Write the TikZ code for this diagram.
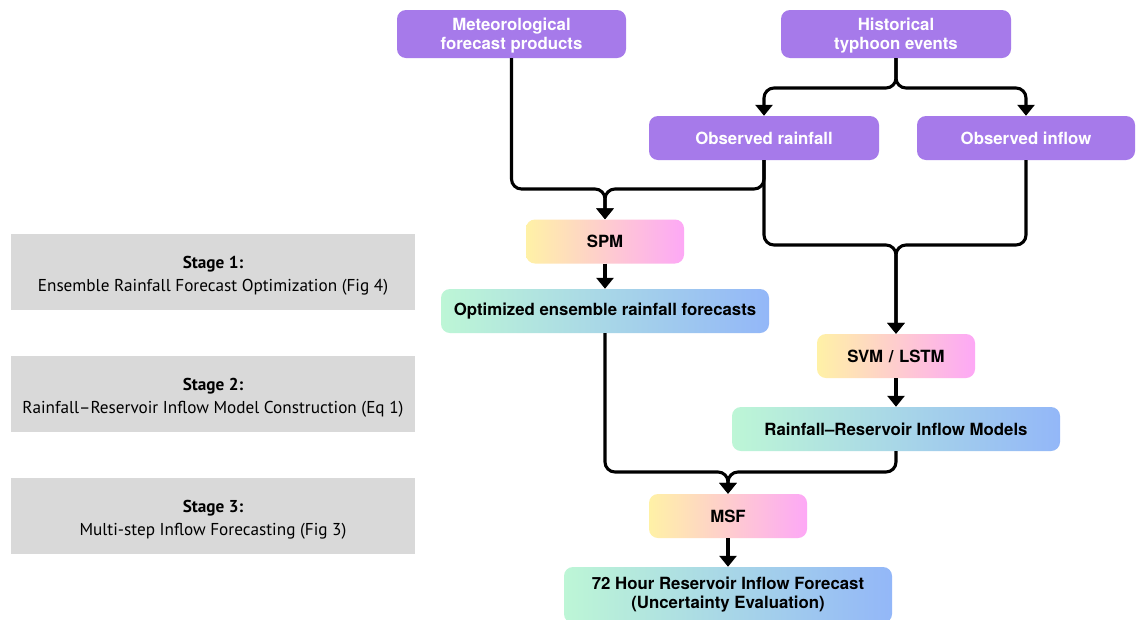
\documentclass[tikz,border=0pt]{standalone}
\usepackage{fontspec}
\setmainfont{TeX Gyre Heros}
\newfontfamily\stagefont{PT Sans}
\usetikzlibrary{arrows.meta}
\definecolor{purp}{HTML}{A67AEA}
\definecolor{warmL}{HTML}{FFF1A6}
\definecolor{warmM}{HTML}{FFCFD0}
\definecolor{warmR}{HTML}{FDA8F6}
\definecolor{coolL}{HTML}{BDF6D6}
\definecolor{coolM}{HTML}{B0DCE4}
\definecolor{coolR}{HTML}{93B7F8}
\definecolor{stagegray}{HTML}{D9D9D9}
\newcommand{\upstrut}[1]{\rule{0pt}{#1}}
\begin{document}
\begin{tikzpicture}[x=1pt,y=-1pt,
  boxfont/.style={font=\bfseries\fontsize{16.8}{19}\selectfont},
  pbox/.style={rounded corners=9pt, fill=purp, text=white, boxfont, minimum height=44pt, align=center, inner sep=0pt},
  warm/.style={rounded corners=9pt, left color=warmL, middle color=warmM, right color=warmR, text=black, boxfont, minimum width=158pt, minimum height=44pt, align=center, inner sep=0pt},
  cool/.style={rounded corners=9pt, left color=coolL, middle color=coolM, right color=coolR, text=black, boxfont, minimum width=328pt, minimum height=44pt, align=center, inner sep=0pt},
  stagebox/.style={fill=stagegray, minimum width=404pt, minimum height=76pt, align=center, inner sep=0pt, font=\stagefont\fontsize{17.2}{23}\selectfont},
  conn/.style={line width=3.1pt, rounded corners=10pt},
  arr/.style={conn, -{Triangle[width=17pt,length=11pt]}}
]
\useasboundingbox (0,0) rectangle (1137,619);
\fill[white] (0,0) rectangle (1137,619);

% stage boxes
\node[stagebox] (s1) at (213,272) {\upstrut{19pt}\textbf{Stage 1:}\\Ensemble Rainfall Forecast Optimization (Fig 4)};
\node[stagebox] (s2) at (213,394) {\upstrut{19pt}\textbf{Stage 2:}\\Rainfall–Reservoir Inflow Model Construction (Eq 1)};
\node[stagebox] (s3) at (213,516) {\upstrut{19pt}\textbf{Stage 3:}\\Multi-step Inflow Forecasting (Fig 3)};

% input boxes
\node[pbox, minimum width=229pt, minimum height=48pt] (met) at (511.5,34) {\upstrut{16pt}Meteorological\\forecast products};
\node[pbox, minimum width=230pt, minimum height=48pt] (hist) at (896,34) {\upstrut{16pt}Historical\\typhoon events};
\node[pbox, minimum width=230pt] (obsR) at (764,138) {Observed rainfall};
\node[pbox, minimum width=218pt] (obsI) at (1026,138) {Observed inflow};

% process boxes
\node[warm] (spm) at (605,241.5) {SPM};
\node[cool] (opt) at (605,311) {Optimized ensemble rainfall forecasts};
\node[warm] (svm) at (896,356) {SVM\,\,/\,\,LSTM};
\node[cool] (mod) at (896,429) {Rainfall–Reservoir Inflow Models};
\node[warm] (msf) at (728,516) {MSF};
\node[cool, minimum height=56pt] (fc) at (728,595) {72 Hour Reservoir Inflow Forecast\\(Uncertainty Evaluation)};

% junction points
\coordinate (h) at (896,88);
\coordinate (j1) at (605,189);
\coordinate (j2) at (896,245);
\coordinate (j3) at (728,472);

% connectors
\draw[arr] (hist.south) -- (h) -| (obsR.north);
\draw[arr] (hist.south) -- (h) -| (obsI.north);
\draw[arr] (met.south) |- (j1) -- (spm.north);
\draw[arr] (obsR.south) |- (j1) -- (spm.north);
\draw[arr] (obsR.south) |- (j2) -- (svm.north);
\draw[arr] (obsI.south) |- (j2) -- (svm.north);
\draw[arr] (spm.south) -- (opt.north);
\draw[arr] (svm.south) -- (mod.north);
\draw[arr] (opt.south) |- (j3) -- (msf.north);
\draw[arr] (mod.south) |- (j3) -- (msf.north);
\draw[arr] (msf.south) -- (fc.north);
\end{tikzpicture}
\end{document}
